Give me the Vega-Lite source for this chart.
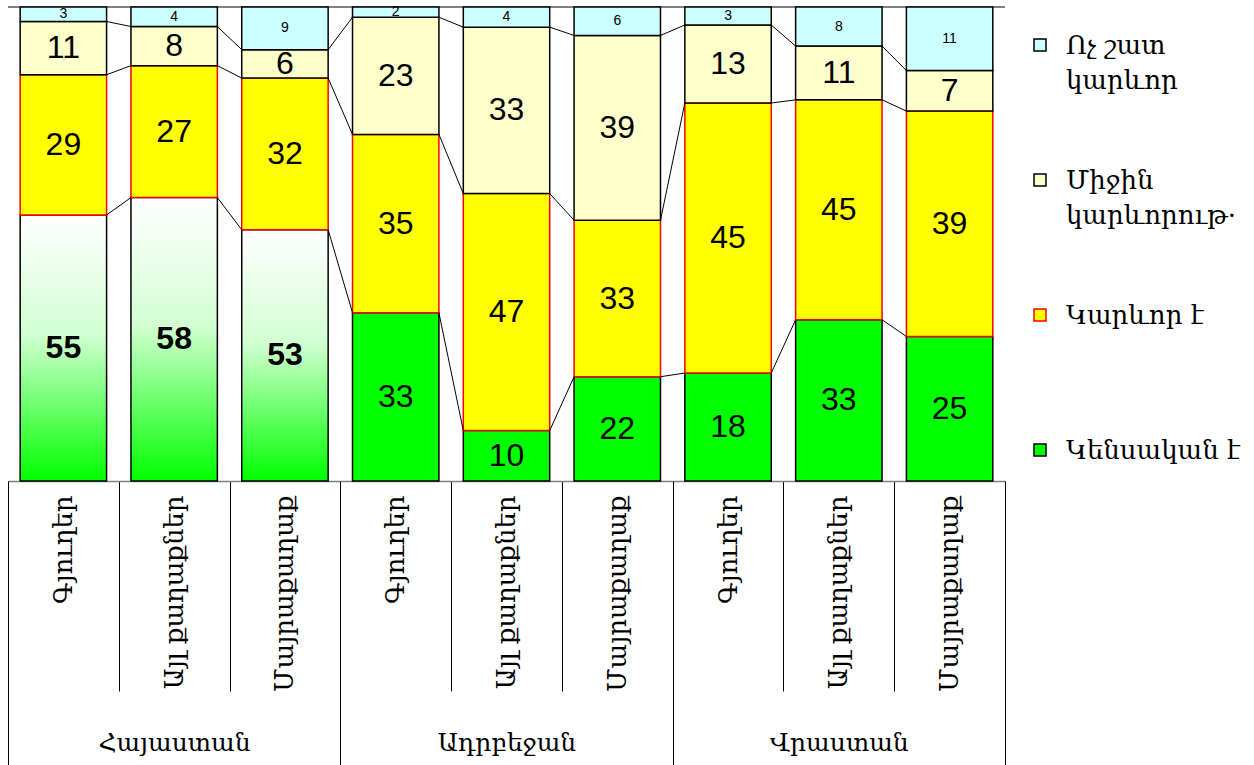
{
  "$schema": "https://vega.github.io/schema/vega-lite/v6.json",
  "padding": {"left": -5, "top": 5, "right": 0, "bottom": 0},
  "background": "white",
  "spacing": 25,
  "config": {"view": {"stroke": null}},
  "data": {"values": [
    {"country": "Հայաստան", "type": "Գյուղեր", "level": "Կենսական է", "value": 55},
    {"country": "Հայաստան", "type": "Գյուղեր", "level": "Կարևոր է", "value": 29},
    {"country": "Հայաստան", "type": "Գյուղեր", "level": "Միջին կարևորութ.", "value": 11},
    {"country": "Հայաստան", "type": "Գյուղեր", "level": "Ոչ շատ կարևոր", "value": 3},
    {"country": "Հայաստան", "type": "Այլ քաղաքներ", "level": "Կենսական է", "value": 58},
    {"country": "Հայաստան", "type": "Այլ քաղաքներ", "level": "Կարևոր է", "value": 27},
    {"country": "Հայաստան", "type": "Այլ քաղաքներ", "level": "Միջին կարևորութ.", "value": 8},
    {"country": "Հայաստան", "type": "Այլ քաղաքներ", "level": "Ոչ շատ կարևոր", "value": 4},
    {"country": "Հայաստան", "type": "Մայրաքաղաք", "level": "Կենսական է", "value": 53},
    {"country": "Հայաստան", "type": "Մայրաքաղաք", "level": "Կարևոր է", "value": 32},
    {"country": "Հայաստան", "type": "Մայրաքաղաք", "level": "Միջին կարևորութ.", "value": 6},
    {"country": "Հայաստան", "type": "Մայրաքաղաք", "level": "Ոչ շատ կարևոր", "value": 9},
    {"country": "Ադրբեջան", "type": "Գյուղեր", "level": "Կենսական է", "value": 33},
    {"country": "Ադրբեջան", "type": "Գյուղեր", "level": "Կարևոր է", "value": 35},
    {"country": "Ադրբեջան", "type": "Գյուղեր", "level": "Միջին կարևորութ.", "value": 23},
    {"country": "Ադրբեջան", "type": "Գյուղեր", "level": "Ոչ շատ կարևոր", "value": 2},
    {"country": "Ադրբեջան", "type": "Այլ քաղաքներ", "level": "Կենսական է", "value": 10},
    {"country": "Ադրբեջան", "type": "Այլ քաղաքներ", "level": "Կարևոր է", "value": 47},
    {"country": "Ադրբեջան", "type": "Այլ քաղաքներ", "level": "Միջին կարևորութ.", "value": 33},
    {"country": "Ադրբեջան", "type": "Այլ քաղաքներ", "level": "Ոչ շատ կարևոր", "value": 4},
    {"country": "Ադրբեջան", "type": "Մայրաքաղաք", "level": "Կենսական է", "value": 22},
    {"country": "Ադրբեջան", "type": "Մայրաքաղաք", "level": "Կարևոր է", "value": 33},
    {"country": "Ադրբեջան", "type": "Մայրաքաղաք", "level": "Միջին կարևորութ.", "value": 39},
    {"country": "Ադրբեջան", "type": "Մայրաքաղաք", "level": "Ոչ շատ կարևոր", "value": 6},
    {"country": "Վրաստան", "type": "Գյուղեր", "level": "Կենսական է", "value": 18},
    {"country": "Վրաստան", "type": "Գյուղեր", "level": "Կարևոր է", "value": 45},
    {"country": "Վրաստան", "type": "Գյուղեր", "level": "Միջին կարևորութ.", "value": 13},
    {"country": "Վրաստան", "type": "Գյուղեր", "level": "Ոչ շատ կարևոր", "value": 3},
    {"country": "Վրաստան", "type": "Այլ քաղաքներ", "level": "Կենսական է", "value": 33},
    {"country": "Վրաստան", "type": "Այլ քաղաքներ", "level": "Կարևոր է", "value": 45},
    {"country": "Վրաստան", "type": "Այլ քաղաքներ", "level": "Միջին կարևորութ.", "value": 11},
    {"country": "Վրաստան", "type": "Այլ քաղաքներ", "level": "Ոչ շատ կարևոր", "value": 8},
    {"country": "Վրաստան", "type": "Մայրաքաղաք", "level": "Կենսական է", "value": 25},
    {"country": "Վրաստան", "type": "Մայրաքաղաք", "level": "Կարևոր է", "value": 39},
    {"country": "Վրաստան", "type": "Մայրաքաղաք", "level": "Միջին կարևորութ.", "value": 7},
    {"country": "Վրաստան", "type": "Մայրաքաղաք", "level": "Ոչ շատ կարևոր", "value": 11}
  ]},
  "hconcat": [
    {
      "width": 997,
      "height": 474,
      "transform": [
        {"window": [{"op": "row_number", "as": "rn"}]},
        {"calculate": "datum.country + '|' + datum.type", "as": "key"},
        {"stack": "value", "groupby": ["key"], "offset": "normalize", "sort": [{"field": "rn", "order": "ascending"}], "as": ["y0", "y1"]},
        {"calculate": "(datum.y0 + datum.y1) / 2", "as": "mid"}
      ],
      "layer": [
        {
          "layer": [
            {
              "mark": {"type": "rule", "color": "#808080", "strokeWidth": 1.5},
              "encoding": {"y": {"datum": 1, "type": "quantitative", "scale": {"domain": [0, 1], "nice": false}, "axis": null}}
            },
            {
              "mark": {"type": "bar", "width": {"band": 0.78}, "strokeWidth": 1.5},
              "encoding": {
                "x": {"field": "key", "type": "nominal", "sort": null,
                  "scale": {"domain": ["Հայաստան|Գյուղեր", "Հայաստան|Այլ քաղաքներ", "Հայաստան|Մայրաքաղաք", "Ադրբեջան|Գյուղեր", "Ադրբեջան|Այլ քաղաքներ", "Ադրբեջան|Մայրաքաղաք", "Վրաստան|Գյուղեր", "Վրաստան|Այլ քաղաքներ", "Վրաստան|Մայրաքաղաք"], "paddingInner": 0, "paddingOuter": 0},
                  "axis": {"orient": "bottom", "title": null, "domainColor": "#808080", "domainWidth": 1.5, "tickBand": "extent", "tickSize": 210, "tickColor": "black", "tickWidth": 1, "labelAngle": 270, "labelAlign": "right", "labelBaseline": "middle", "labelPadding": -196, "labelExpr": "split(datum.label, '|')[1]", "labelFont": "DejaVu Serif", "labelFontSize": 26, "labelColor": "black", "labelLimit": 0, "labelOverlap": false}},
                "y": {"field": "y0", "type": "quantitative", "scale": {"domain": [0, 1], "nice": false}, "axis": null},
                "y2": {"field": "y1"},
                "fill": {
                  "condition": {"test": "datum.country == 'Հայաստան' && datum.level == 'Կենսական է'", "value": {"gradient": "linear", "x1": 0, "y1": 0, "x2": 0, "y2": 1, "stops": [{"offset": 0, "color": "#ffffff"}, {"offset": 0.45, "color": "#d2ffd2"}, {"offset": 1, "color": "#00ff00"}]}},
                  "field": "level", "type": "nominal",
                  "scale": {"domain": ["Ոչ շատ կարևոր", "Միջին կարևորութ.", "Կարևոր է", "Կենսական է"], "range": ["#ccffff", "#ffffcc", "#ffff00", "#00ff00"]},
                  "legend": null
                },
                "stroke": {"field": "level", "type": "nominal",
                  "scale": {"domain": ["Ոչ շատ կարևոր", "Միջին կարևորութ.", "Կարևոր է", "Կենսական է"], "range": ["#000000", "#000000", "#ff0000", "#000000"]},
                  "legend": null
                }
              }
            },
            {
              "transform": [
                {"filter": "datum.level != 'Ոչ շատ կարևոր'"},
                {"window": [{"op": "lead", "field": "key", "as": "nextKey"}, {"op": "lead", "field": "y1", "as": "nextY"}], "groupby": ["level"], "sort": [{"field": "rn", "order": "ascending"}]},
                {"filter": "isValid(datum.nextKey)"}
              ],
              "mark": {"type": "rule", "color": "black", "strokeWidth": 1},
              "encoding": {
                "x": {"field": "key", "type": "nominal", "sort": null, "bandPosition": 0.89},
                "x2": {"field": "nextKey", "bandPosition": 0.11},
                "y": {"field": "y1", "type": "quantitative"},
                "y2": {"field": "nextY"}
              }
            },
            {
              "transform": [{"filter": "!(datum.country == 'Հայաստան' && datum.level == 'Կենսական է')"}],
              "mark": {"type": "text", "font": "Liberation Sans", "baseline": "middle", "align": "center", "color": "black"},
              "encoding": {
                "x": {"field": "key", "type": "nominal", "sort": null},
                "y": {"field": "mid", "type": "quantitative"},
                "text": {"field": "value", "type": "quantitative"},
                "size": {"condition": {"test": "datum.level == 'Ոչ շատ կարևոր'", "value": 14}, "value": 32}
              }
            },
            {
              "transform": [{"filter": "datum.country == 'Հայաստան' && datum.level == 'Կենսական է'"}],
              "mark": {"type": "text", "font": "Liberation Sans", "fontWeight": "bold", "fontSize": 32, "baseline": "middle", "align": "center", "color": "black"},
              "encoding": {
                "x": {"field": "key", "type": "nominal", "sort": null},
                "y": {"field": "mid", "type": "quantitative"},
                "text": {"field": "value", "type": "quantitative"}
              }
            }
          ]
        },
        {
          "mark": {"type": "bar", "opacity": 0},
          "encoding": {
            "x": {"field": "country", "type": "nominal", "sort": null,
              "scale": {"domain": ["Հայաստան", "Ադրբեջան", "Վրաստան"], "paddingInner": 0, "paddingOuter": 0},
              "axis": {"orient": "bottom", "title": null, "domain": false, "tickBand": "extent", "tickSize": 284, "tickColor": "black", "tickWidth": 1, "labelAngle": 0, "labelAlign": "center", "labelBaseline": "top", "labelPadding": -35, "labelFont": "DejaVu Serif", "labelFontSize": 25, "labelColor": "black", "labelLimit": 0, "labelOverlap": false}}
          }
        }
      ],
      "resolve": {"scale": {"x": "independent"}, "axis": {"x": "independent"}}
    },
    {
      "width": 12,
      "height": 481,
      "transform": [
        {"aggregate": [{"op": "count", "as": "n"}], "groupby": ["level"]},
        {"calculate": "datum.level == 'Ոչ շատ կարևոր' ? 'Ոչ շատ|կարևոր' : datum.level == 'Միջին կարևորութ.' ? 'Միջին|կարևորութ·' : datum.level", "as": "disp"}
      ],
      "layer": [
        {
          "mark": {"type": "square", "size": 144, "strokeWidth": 1.5, "opacity": 1, "filled": true},
          "encoding": {
            "y": {"field": "level", "type": "nominal", "scale": {"type": "point", "domain": ["Ոչ շատ կարևոր", "Միջին կարևորութ.", "Կարևոր է", "Կենսական է"], "padding": 0.2815}, "axis": null},
            "fill": {"field": "level", "type": "nominal", "scale": {"domain": ["Ոչ շատ կարևոր", "Միջին կարևորութ.", "Կարևոր է", "Կենսական է"], "range": ["#ccffff", "#ffffcc", "#ffff00", "#00ff00"]}, "legend": null},
            "stroke": {"field": "level", "type": "nominal", "scale": {"domain": ["Ոչ շատ կարևոր", "Միջին կարևորութ.", "Կարևոր է", "Կենսական է"], "range": ["#000000", "#000000", "#ff0000", "#000000"]}, "legend": null}
          }
        },
        {
          "mark": {"type": "text", "align": "left", "baseline": "alphabetic", "dx": 26, "dy": 9, "lineBreak": "|", "lineHeight": 35, "font": "DejaVu Serif", "fontSize": 26, "color": "black"},
          "encoding": {
            "y": {"field": "level", "type": "nominal", "scale": {"type": "point", "domain": ["Ոչ շատ կարևոր", "Միջին կարևորութ.", "Կարևոր է", "Կենսական է"], "padding": 0.2815}, "axis": null},
            "text": {"field": "disp", "type": "nominal"}
          }
        }
      ]
    }
  ]
}
